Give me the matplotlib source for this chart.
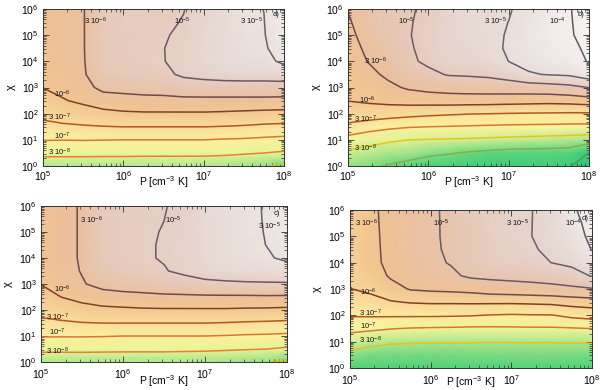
import numpy as np
import matplotlib
matplotlib.use("Agg")
import matplotlib.pyplot as plt
from matplotlib.colors import LinearSegmentedColormap

plt.rcParams['font.family'] = ['Liberation Sans', 'DejaVu Sans']
plt.rcParams['mathtext.fontset'] = 'custom'
plt.rcParams['mathtext.rm'] = 'Liberation Sans'
plt.rcParams['mathtext.it'] = 'Liberation Sans:italic'

# Grid (log10 of P and chi)
logP = [5.0, 5.25, 5.5, 5.75, 6.0, 6.25, 6.5, 6.75, 7.0, 7.25, 7.5, 7.75, 8.0]
logChi = [0.0, 0.5, 1.0, 1.5, 2.0, 2.5, 3.0, 3.5, 4.0, 4.5, 5.0, 5.5, 6.0]

# log10 abundance, one list per P column (chi from bottom to top)
panel_a = [
    [-7.82, -7.40, -6.98, -6.65, -6.40, -6.19, -5.995, -5.92, -5.85, -5.84, -5.83, -5.81, -5.80],
    [-7.82, -7.40, -6.99, -6.60, -6.30, -6.03, -5.88, -5.75, -5.68, -5.67, -5.66, -5.65, -5.64],
    [-7.82, -7.40, -6.98, -6.57, -6.21, -5.91, -5.68, -5.58, -5.56, -5.55, -5.55, -5.55, -5.55],
    [-7.82, -7.41, -6.99, -6.54, -6.13, -5.75, -5.40, -5.18, -5.13, -5.13, -5.13, -5.12, -5.12],
    [-7.82, -7.41, -7.00, -6.52, -6.07, -5.70, -5.37, -5.13, -5.08, -5.08, -5.08, -5.07, -5.07],
    [-7.82, -7.42, -7.00, -6.52, -6.05, -5.67, -5.33, -5.10, -5.04, -5.04, -5.04, -5.05, -5.05],
    [-7.82, -7.42, -7.00, -6.52, -6.05, -5.66, -5.31, -5.08, -5.01, -5.005, -5.02, -5.05, -5.08],
    [-7.82, -7.42, -7.00, -6.52, -6.05, -5.65, -5.20, -4.94, -4.90, -4.92, -4.955, -4.985, -5.01],
    [-7.84, -7.42, -7.00, -6.52, -6.05, -5.64, -5.20, -4.87, -4.80, -4.80, -4.80, -4.82, -4.85],
    [-7.86, -7.44, -7.03, -6.54, -6.07, -5.64, -5.20, -4.82, -4.72, -4.71, -4.70, -4.70, -4.70],
    [-7.91, -7.48, -7.05, -6.57, -6.10, -5.64, -5.20, -4.80, -4.65, -4.61, -4.58, -4.575, -4.57],
    [-7.96, -7.52, -7.09, -6.62, -6.13, -5.64, -5.20, -4.80, -4.63, -4.566, -4.54, -4.53, -4.52],
    [-8.10, -7.58, -7.13, -6.65, -6.15, -5.65, -5.21, -4.76, -4.45, -4.35, -4.30, -4.27, -4.25],
]

panel_b = [
    [-7.85, -7.63, -7.19, -6.63, -6.27, -5.99, -5.92, -5.85, -5.78, -5.71, -5.64, -5.57, -5.50],
    [-7.93, -7.69, -7.35, -6.78, -6.26, -5.93, -5.79, -5.64, -5.51, -5.43, -5.35, -5.31, -5.28],
    [-8.03, -7.76, -7.465, -6.89, -6.31, -5.86, -5.62, -5.44, -5.30, -5.22, -5.15, -5.12, -5.10],
    [-8.15, -7.79, -7.52, -6.97, -6.37, -5.80, -5.47, -5.20, -5.08, -5.04, -5.02, -5.025, -5.03],
    [-8.30, -7.89, -7.54, -7.00, -6.43, -5.77, -5.39, -5.10, -4.92, -4.90, -4.89, -4.92, -4.95],
    [-8.35, -7.96, -7.56, -7.02, -6.47, -5.75, -5.34, -4.97, -4.80, -4.76, -4.72, -4.72, -4.72],
    [-8.40, -8.04, -7.58, -7.04, -6.505, -5.76, -5.30, -4.95, -4.75, -4.70, -4.65, -4.64, -4.63],
    [-8.45, -8.09, -7.61, -7.06, -6.52, -5.77, -5.28, -4.91, -4.70, -4.60, -4.60, -4.60, -4.60],
    [-8.45, -8.14, -7.64, -7.08, -6.54, -5.79, -5.26, -4.79, -4.52, -4.49, -4.50, -4.52, -4.55],
    [-8.42, -8.15, -7.67, -7.09, -6.555, -5.81, -5.24, -4.56, -4.40, -4.37, -4.35, -4.37, -4.40],
    [-8.40, -8.15, -7.70, -7.10, -6.565, -5.83, -5.20, -4.50, -4.30, -4.25, -4.20, -4.20, -4.20],
    [-8.48, -8.18, -7.73, -7.11, -6.58, -5.80, -5.13, -4.46, -4.20, -4.12, -4.05, -4.04, -4.03],
    [-8.80, -8.53, -7.78, -7.12, -6.58, -5.73, -4.99, -4.26, -3.97, -3.91, -3.85, -3.82, -3.80],
]

panel_c = [
    [-7.85, -7.41, -6.97, -6.625, -6.38, -6.18, -5.99, -5.91, -5.83, -5.82, -5.80, -5.79, -5.78],
    [-7.85, -7.415, -6.97, -6.585, -6.28, -5.995, -5.79, -5.68, -5.63, -5.63, -5.63, -5.63, -5.63],
    [-7.85, -7.41, -6.97, -6.54, -6.18, -5.85, -5.56, -5.50, -5.49, -5.49, -5.49, -5.49, -5.49],
    [-7.85, -7.42, -6.98, -6.52, -6.12, -5.72, -5.38, -5.20, -5.13, -5.12, -5.11, -5.10, -5.10],
    [-7.85, -7.43, -7.00, -6.52, -6.09, -5.67, -5.32, -5.12, -5.07, -5.065, -5.06, -5.06, -5.06],
    [-7.85, -7.43, -7.00, -6.52, -6.06, -5.64, -5.28, -5.07, -5.03, -5.03, -5.03, -5.035, -5.04],
    [-7.85, -7.43, -7.00, -6.52, -6.05, -5.62, -5.20, -5.02, -4.98, -4.98, -4.99, -5.002, -5.01],
    [-7.86, -7.44, -7.00, -6.52, -6.05, -5.61, -5.15, -4.93, -4.88, -4.89, -4.90, -4.92, -4.95],
    [-7.88, -7.45, -7.00, -6.52, -6.05, -5.595, -5.10, -4.82, -4.76, -4.75, -4.75, -4.74, -4.74],
    [-7.90, -7.475, -7.02, -6.54, -6.05, -5.59, -5.08, -4.75, -4.67, -4.66, -4.65, -4.64, -4.63],
    [-7.93, -7.50, -7.05, -6.57, -6.07, -5.59, -5.06, -4.72, -4.60, -4.58, -4.565, -4.56, -4.56],
    [-7.96, -7.52, -7.065, -6.59, -6.08, -5.58, -5.05, -4.70, -4.55, -4.52, -4.515, -4.512, -4.51],
    [-8.10, -7.59, -7.095, -6.62, -6.105, -5.585, -5.05, -4.64, -4.48, -4.42, -4.37, -4.35, -4.33],
]

panel_d = [
    [-7.98, -7.66, -7.28, -6.86, -6.485, -6.25, -6.01, -5.95, -5.90, -5.89, -5.875, -5.86, -5.85],
    [-7.98, -7.72, -7.40, -6.91, -6.475, -6.14, -5.92, -5.785, -5.65, -5.64, -5.625, -5.61, -5.60],
    [-7.98, -7.74, -7.47, -6.98, -6.47, -6.04, -5.70, -5.47, -5.42, -5.41, -5.41, -5.41, -5.41],
    [-7.98, -7.74, -7.49, -7.02, -6.47, -5.97, -5.49, -5.25, -5.17, -5.165, -5.16, -5.155, -5.15],
    [-7.97, -7.74, -7.50, -7.04, -6.47, -5.94, -5.44, -5.15, -5.08, -5.07, -5.06, -5.055, -5.05],
    [-7.96, -7.74, -7.50, -7.05, -6.48, -5.94, -5.41, -5.08, -4.976, -4.937, -4.93, -4.933, -4.935],
    [-7.95, -7.73, -7.50, -7.07, -6.50, -5.93, -5.36, -4.925, -4.80, -4.795, -4.79, -4.785, -4.78],
    [-7.94, -7.73, -7.51, -7.07, -6.545, -5.93, -5.26, -4.89, -4.70, -4.69, -4.675, -4.66, -4.65],
    [-7.93, -7.72, -7.505, -7.06, -6.57, -5.93, -5.22, -4.86, -4.65, -4.61, -4.57, -4.56, -4.55],
    [-7.93, -7.72, -7.505, -7.05, -6.55, -5.91, -5.18, -4.83, -4.60, -4.56, -4.525, -4.527, -4.53],
    [-7.94, -7.73, -7.505, -7.05, -6.545, -5.88, -5.14, -4.78, -4.52, -4.45, -4.42, -4.41, -4.40],
    [-7.95, -7.73, -7.495, -7.03, -6.41, -5.80, -5.09, -4.68, -4.44, -4.30, -4.20, -4.12, -4.05],
    [-7.96, -7.74, -7.49, -6.995, -6.33, -5.75, -5.03, -4.50, -4.23, -3.985, -3.90, -3.875, -3.85],
]

levels = [3e-9, 1e-8, 3e-8, 1e-7, 3e-7, 1e-6, 3e-6, 1e-5, 3e-5, 1e-4]

# contour labels (text, logP, logChi)
labels_a = [("3 10$^{-6}$", 5.65, 5.53), ("10$^{-5}$", 6.73, 5.53), ("3 10$^{-5}$", 7.6, 5.53),
            ("a)", 7.9, 5.78), ("10$^{-6}$", 5.24, 2.75), ("3 10$^{-7}$", 5.2, 1.86),
            ("10$^{-7}$", 5.24, 1.15), ("3 10$^{-8}$", 5.2, 0.51)]
labels_b = [("10$^{-5}$", 5.73, 5.53), ("3 10$^{-5}$", 6.83, 5.53), ("10$^{-4}$", 7.6, 5.53),
            ("b)", 7.9, 5.78), ("3 10$^{-6}$", 5.34, 3.99), ("10$^{-6}$", 5.24, 2.5),
            ("3 10$^{-7}$", 5.22, 1.78), ("3 10$^{-8}$", 5.22, 0.67)]
labels_c = [("3 10$^{-6}$", 5.62, 5.45), ("10$^{-5}$", 6.61, 5.45), ("c)", 7.87, 5.7),
            ("3 10$^{-5}$", 7.79, 5.2), ("10$^{-6}$", 5.26, 2.8), ("3 10$^{-7}$", 5.2, 1.73),
            ("10$^{-7}$", 5.2, 1.13), ("3 10$^{-8}$", 5.2, 0.41)]
labels_d = [("3 10$^{-6}$", 5.2, 5.49), ("10$^{-5}$", 6.13, 5.49), ("3 10$^{-5}$", 7.08, 5.49),
            ("10$^{-4}$", 7.77, 5.49), ("d)", 7.91, 5.68), ("10$^{-6}$", 5.23, 2.89),
            ("3 10$^{-7}$", 5.25, 2.07), ("10$^{-7}$", 5.23, 1.6), ("3 10$^{-8}$", 5.25, 1.05)]

# background colour scale
nodes = [(-8.8, '#2cc87a'), (-8.2, '#5cd47a'), (-7.9, '#a6e48a'), (-7.6, '#e2f396'),
         (-7.2, '#fbf59c'), (-6.8, '#fde9a0'), (-6.4, '#f9d798'), (-6.0, '#f3c590'),
         (-5.6, '#ecbf99'), (-5.2, '#e6c7b5'), (-4.8, '#e6d7d1'), (-4.4, '#eee7e5'),
         (-4.0, '#f6f2f2'), (-3.7, '#faf8f8')]
vmin, vmax = nodes[0][0], nodes[-1][0]
cmap = LinearSegmentedColormap.from_list(
    "bg", [((v - vmin) / (vmax - vmin), c) for v, c in nodes])

line_base = ['#5aa050', '#c0c840', '#e88038', '#dc7434', '#b05822', '#7c4226',
             '#6e4a4c', '#6a5866', '#666068', '#5e5a60']
line_cols = {
    'a': line_base,
    'b': ['#4f9a4a', '#7cb050', '#e8c418'] + line_base[3:],
    'c': ['#5aa050', '#e0b428'] + line_base[2:],
    'd': ['#4f9a4a', '#7cb050', '#e2c424'] + line_base[3:],
}
# shift of the background colour scale per panel
bg_shift = {'a': 0.0, 'b': 0.1, 'c': 0.0, 'd': 0.35}

# key, data, labels, axes rect, tick pad, xlabel y (axes fraction)
panels = [
    ('a', panel_a, labels_a, [43/600, 1-166/390, 241/600, 157/390], 2, -0.10),
    ('b', panel_b, labels_b, [348/600, 1-166/390, 241/600, 157/390], 2, -0.10),
    ('c', panel_c, labels_c, [41/600, 1-362/390, 246/600, 156/390], 4, -0.125),
    ('d', panel_d, labels_d, [350/600, 1-368/390, 242/600, 158/390], 4, -0.09),
]

fig = plt.figure(figsize=(6, 3.9), dpi=100)
for key, cols, labs, rect, tpad, xly in panels:
    ax = fig.add_axes(rect)
    Z = np.array(cols).T
    s = bg_shift[key]
    ax.pcolormesh(logP, logChi, Z, shading='gouraud', cmap=cmap,
                  vmin=vmin + s, vmax=vmax + s)
    ax.contour(logP, logChi, Z, levels=np.log10(levels), colors=line_cols[key],
               linewidths=1.1)
    for txt, x, y in labs:
        ax.text(x, y, txt, fontsize=5.5, ha='center', va='center', color='#111111')
    ax.set_xlim(5, 8)
    ax.set_ylim(0, 6)
    ax.set_xticks([5, 6, 7, 8])
    ax.set_xticklabels(["10$^{%d}$" % n for n in [5, 6, 7, 8]])
    ax.set_yticks(range(0, 7))
    ax.set_yticklabels(["10$^{%d}$" % n for n in range(0, 7)])
    sub = np.log10(np.arange(2, 10))
    ax.set_xticks([n + v for n in range(5, 8) for v in sub], minor=True)
    ax.set_yticks([n + v for n in range(0, 6) for v in sub], minor=True)
    ax.tick_params(which='both', direction='in', top=True, right=True,
                   labelsize=7.5, color='#333333')
    ax.tick_params(axis='x', pad=tpad)
    ax.tick_params(axis='y', pad=3)
    ax.tick_params(which='major', length=4, width=0.6)
    ax.tick_params(which='minor', length=2, width=0.5)
    for sp in ax.spines.values():
        sp.set_color('#333333')
        sp.set_linewidth(0.7)
    ax.set_xlabel("P [cm$^{-3}$ K]", fontsize=7.5, va='center')
    ax.xaxis.set_label_coords(0.5, xly)
    ax.set_ylabel("χ", fontsize=8, va='center')
    ax.yaxis.set_label_coords(-0.135, 0.5)

fig.savefig("out.png", dpi=100)
